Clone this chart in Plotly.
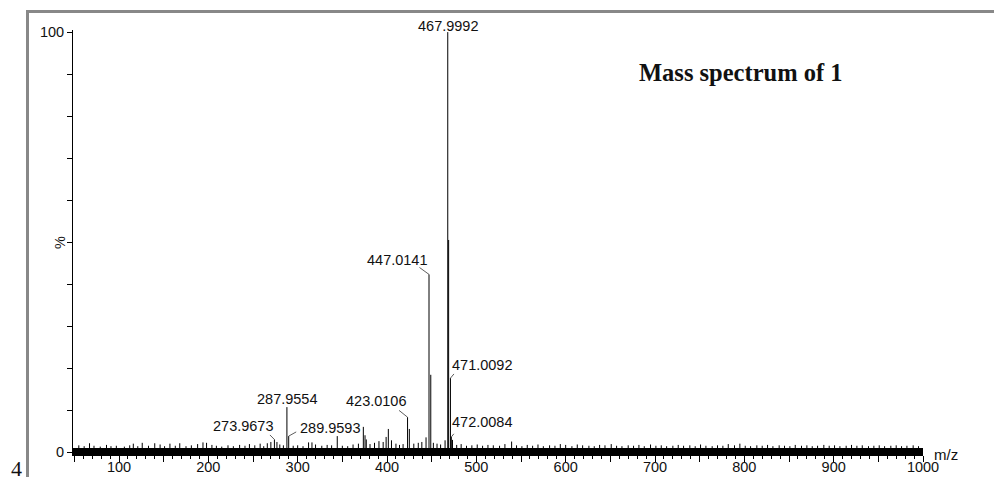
import plotly.graph_objects as go

# ---------------- data ----------------
peak_mz = [273.9673, 276.8, 287.9554, 289.9593, 312.2, 344.3, 373.5, 375.4, 376.8,
           395.7, 399.0, 401.5, 405.0, 423.0106, 425.0, 443.7, 447.0141, 449.0,
           451.9, 465.0, 467.9992, 469.0, 471.0092, 472.0084, 473.3, 539.5]
peak_int = [3.0, 2.4, 10.7, 3.8, 2.3, 3.8, 6.0, 4.0, 3.0,
            2.4, 3.6, 5.5, 2.8, 8.3, 5.5, 3.5, 42.3, 18.4,
            2.2, 2.8, 100.0, 50.5, 17.6, 3.6, 2.9, 2.5]

noise_mz = [55, 61, 67, 72, 79, 86, 91, 97, 106, 112,
            116, 121, 126, 133, 140, 146, 151, 157, 163, 168,
            175, 181, 188, 194, 198, 204, 209, 215, 222, 228,
            235, 241, 246, 252, 258, 262, 266, 270, 280, 284,
            295, 300, 306, 316, 320, 327, 333, 338, 350, 356,
            362, 368, 381, 386, 391, 410, 414, 418, 430, 435,
            439, 456, 460, 478, 483, 489, 495, 501, 507, 513,
            519, 526, 532, 545, 551, 557, 563, 569, 575, 582,
            588, 594, 600, 607, 613, 619, 626, 632, 638, 644,
            651, 657, 663, 670, 676, 682, 688, 695, 701, 707,
            713, 720, 726, 732, 739, 745, 751, 757, 764, 770,
            776, 782, 789, 795, 801, 807, 814, 820, 826, 832,
            839, 845, 851, 857, 864, 870, 876, 882, 889, 895,
            901, 907, 914, 920, 926, 932, 939, 945, 951, 957,
            964, 970, 976, 982, 989, 995]
noise_int = [1.6, 1.4, 2.1, 1.5, 1.3, 1.7, 1.4, 1.5, 1.3, 1.6,
             2.0, 1.4, 2.2, 1.5, 2.1, 1.8, 1.4, 2.0, 1.5, 2.1,
             1.4, 1.6, 1.9, 2.3, 2.2, 1.7, 1.5, 1.3, 1.6, 1.4,
             1.7, 1.5, 1.9, 1.6, 2.0, 1.4, 2.1, 2.4, 1.8, 1.6,
             1.5, 1.6, 1.4, 2.3, 1.8, 1.5, 1.7, 1.6, 1.5, 1.4,
             1.8, 2.0, 1.9, 2.2, 2.6, 2.0, 1.7, 1.9, 2.0, 2.2,
             2.4, 2.0, 1.8, 1.7, 1.9, 1.5, 1.6, 1.8, 1.5, 1.7,
             1.6, 1.5, 1.9, 1.6, 1.4, 1.7, 1.5, 1.8, 1.4, 1.6,
             1.5, 1.9, 1.7, 1.4, 1.8, 1.6, 1.5, 1.4, 1.7, 1.6,
             1.9, 1.5, 1.4, 1.6, 1.5, 1.7, 1.4, 1.8, 1.5, 1.6,
             1.4, 1.5, 1.7, 1.5, 1.6, 1.4, 1.8, 1.5, 1.4, 1.6,
             1.5, 1.9, 1.6, 2.0, 1.5, 1.4, 1.6, 1.5, 1.7, 1.4,
             1.6, 1.5, 1.4, 1.7, 1.5, 1.6, 1.4, 1.5, 1.7, 1.5,
             1.6, 1.4, 1.5, 1.7, 1.5, 1.6, 1.4, 1.5, 1.6, 1.4,
             1.5, 1.6, 1.4, 1.5, 1.6, 1.4]
baseline_level = 0.15

labelled_mz = [467.9992, 447.0141, 471.0092, 472.0084, 423.0106, 287.9554, 289.9593, 273.9673]

x_ticks_major = [50, 100, 150, 200, 250, 300, 350, 400, 450, 500, 550, 600, 650,
                 700, 750, 800, 850, 900, 950, 1000]
x_tick_labels = ['', '100', '', '200', '', '300', '', '400', '', '500', '', '600', '',
                 '700', '', '800', '', '900', '', '1000']
y_ticks = [0, 10, 20, 30, 40, 50, 60, 70, 80, 90, 100]
y_tick_labels = ['0', '', '', '', '', '', '', '', '', '', '100']

x_range = [48.5, 1000]
y_range = [-0.7, 100.5]

# ---------------- styling / layout helpers ----------------
W, H = 995, 477
L, R, T, B = 73, 72, 30, 22
PW, PH = W - L - R, H - T - B

def px_x(px):
    return (px - L) / PW

def px_y(py):
    return (H - B - py) / PH

# text offsets (pixels, dx right, dy down) from peak top, and leader tails
label_style = {
    467.9992: dict(dx=0, dy=-6, lead=None),
    447.0141: dict(dx=-32, dy=-14, lead=(-11, -8)),
    471.0092: dict(dx=32, dy=-13, lead=(5, -6)),
    472.0084: dict(dx=31, dy=-15, lead=(4, -5)),
    423.0106: dict(dx=-32, dy=-16, lead=(-10, -8)),
    287.9554: dict(dx=0, dy=-8, lead=None),
    289.9593: dict(dx=41, dy=-8.5, lead=(9, -5)),
    273.9673: dict(dx=-31, dy=-13, lead=(-6, -6)),
}

sx, sy = [], []
for m, v in list(zip(noise_mz, noise_int)) + list(zip(peak_mz, peak_int)):
    sx += [m, m, None]
    sy += [0, v, None]

fig = go.Figure()
fig.add_trace(go.Scatter(x=x_range, y=[baseline_level, baseline_level], mode='lines',
                         line=dict(color='black', width=7), hoverinfo='skip', showlegend=False))
fig.add_trace(go.Scatter(x=sx, y=sy, mode='lines', line=dict(color='black', width=1),
                         hoverinfo='skip', showlegend=False))

font_lbl = dict(family='Arial, Liberation Sans, sans-serif', size=14.5, color='#111')
annotations = []
for m in labelled_mz:
    v = peak_int[peak_mz.index(m)]
    st = label_style[m]
    annotations.append(dict(x=m, y=v, xref='x', yref='y', text=f'{m:.4f}', showarrow=False,
                            xanchor='center', yanchor='middle', xshift=st['dx'], yshift=-st['dy'],
                            font=font_lbl))
    if st['lead'] is not None:
        annotations.append(dict(x=m, y=v, xref='x', yref='y', text=' ', showarrow=True,
                                arrowhead=0, arrowwidth=0.8, arrowcolor='#333',
                                ax=st['lead'][0], ay=st['lead'][1], standoff=0,
                                font=dict(size=1)))

annotations.append(dict(x=px_x(740), y=px_y(72), xref='paper', yref='paper',
                        text='<b>Mass spectrum of 1</b>', showarrow=False,
                        xanchor='center', yanchor='middle',
                        font=dict(family='Times New Roman, Liberation Serif, serif', size=24.5, color='#111')))
annotations.append(dict(x=px_x(60), y=px_y(243), xref='paper', yref='paper', text='%',
                        showarrow=False, textangle=-90, xanchor='center', yanchor='middle',
                        font=font_lbl))
annotations.append(dict(x=px_x(932), y=px_y(454), xref='paper', yref='paper', text='m/z',
                        showarrow=False, xanchor='left', yanchor='middle',
                        font=dict(family='Arial, Liberation Sans, sans-serif', size=15, color='#111')))
annotations.append(dict(x=px_x(16), y=px_y(454), xref='paper', yref='paper', text='4',
                        showarrow=False, xanchor='center', yanchor='top',
                        font=dict(family='Times New Roman, Liberation Serif, serif', size=22, color='#111')))

shapes = [
    dict(type='line', xref='paper', yref='paper', x0=px_x(27.5), x1=px_x(27.5),
         y0=px_y(10), y1=px_y(490), line=dict(color='#888888', width=3)),
    dict(type='line', xref='paper', yref='paper', x0=px_x(26), x1=px_x(994),
         y0=px_y(11.5), y1=px_y(11.5), line=dict(color='#888888', width=3)),
]

fig.update_layout(
    width=W, height=H, autosize=False,
    margin=dict(l=L, r=R, t=T, b=B, autoexpand=False),
    paper_bgcolor='white', plot_bgcolor='white',
    annotations=annotations, shapes=shapes,
    xaxis=dict(range=x_range, showgrid=False, zeroline=False, showline=True, automargin=False,
               linecolor='black', linewidth=1, ticks='outside', ticklen=6, tickwidth=1,
               tickcolor='black', tickvals=x_ticks_major, ticktext=x_tick_labels,
               ticklabelstandoff=-7,
               tickfont=dict(family='Arial, Liberation Sans, sans-serif', size=14.5, color='#111'),
               minor=dict(dtick=10, tick0=0, ticks='outside', ticklen=3, tickcolor='black', tickwidth=1)),
    yaxis=dict(range=y_range, showgrid=False, zeroline=False, showline=True, automargin=False,
               linecolor='black', linewidth=1, ticks='outside', ticklen=5, tickwidth=1,
               tickcolor='black', tickvals=y_ticks, ticktext=y_tick_labels,
               tickfont=dict(family='Arial, Liberation Sans, sans-serif', size=14.5, color='#111')),
)

fig.write_html('out.html')
